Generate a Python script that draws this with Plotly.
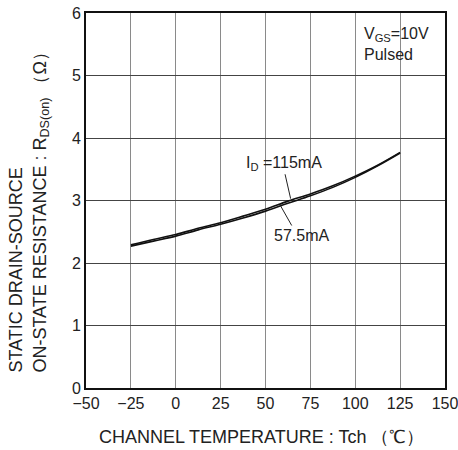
import plotly.graph_objects as go

temp = [-25, -12.5, 0, 12.5, 25, 37.5, 50, 62.5, 75, 87.5, 100, 112.5, 125]
r_115 = [2.29, 2.375, 2.455, 2.555, 2.645, 2.75, 2.86, 2.99, 3.105, 3.235, 3.39, 3.565, 3.77]
r_57 = [2.27, 2.35, 2.43, 2.53, 2.62, 2.72, 2.83, 2.955, 3.075, 3.21, 3.37, 3.555, 3.76]
x_ticks = [-50, -25, 0, 25, 50, 75, 100, 125, 150]
y_ticks = [0, 1, 2, 3, 4, 5, 6]

FONT = "Liberation Sans, Arial, sans-serif"
TXT = "#222"

fig = go.Figure()
fig.add_trace(go.Scatter(x=temp, y=r_115, mode="lines",
                         line=dict(color="#111", width=1.6, shape="spline"), name="115mA"))
fig.add_trace(go.Scatter(x=temp, y=r_57, mode="lines",
                         line=dict(color="#111", width=1.6, shape="spline"), name="57.5mA"))

fig.update_layout(
    width=458, height=450,
    margin=dict(l=86, r=13, t=13, b=62),
    paper_bgcolor="white", plot_bgcolor="white",
    showlegend=False,
    font=dict(family=FONT, size=16, color=TXT),
)
fig.update_xaxes(
    range=[-50, 150], tickvals=x_ticks, tickfont=dict(size=16, color=TXT),
    showgrid=True, gridcolor="#8a8a8a", gridwidth=1,
    showline=True, mirror=True, linecolor="#111", linewidth=2,
    zeroline=False, ticks="", fixedrange=True, automargin=False,
    ticklabeloverflow="allow",
)
fig.update_yaxes(
    range=[0, 6], tickvals=y_ticks, tickfont=dict(size=16, color=TXT),
    showgrid=True, gridcolor="#444", gridwidth=1,
    showline=True, mirror=True, linecolor="#111", linewidth=2,
    zeroline=False, ticks="", fixedrange=True, automargin=False,
    ticklabeloverflow="allow",
)

# Axis titles as annotations
fig.add_annotation(
    xref="paper", yref="paper", x=-0.159, y=0.481, xanchor="center", yanchor="middle",
    textangle=-90, showarrow=False, align="left",
    text="STATIC DRAIN-SOURCE<br>ON-STATE RESISTANCE : R<sub>DS(on)</sub> （Ω）",
    font=dict(size=18, color=TXT, family=FONT),
)
fig.add_annotation(
    xref="paper", yref="paper", x=0.49, y=-0.131, xanchor="center", yanchor="middle",
    showarrow=False,
    text="CHANNEL TEMPERATURE : Tch （℃）",
    font=dict(size=18, color=TXT, family=FONT),
)

# Condition text
fig.add_annotation(
    xref="x", yref="y", x=103.5, y=5.5, xanchor="left", yanchor="middle",
    showarrow=False, align="left",
    text="V<sub>GS</sub>=10V<br>Pulsed",
    font=dict(size=16, color=TXT, family=FONT),
)

# Curve labels with leader lines
fig.add_annotation(
    xref="x", yref="y", x=60.3, y=3.59, xanchor="center", yanchor="middle",
    showarrow=False, text="I<sub>D</sub> =115mA",
    font=dict(size=16, color=TXT, family=FONT),
)
fig.add_shape(type="line", xref="x", yref="y", x0=60.9, y0=3.42, x1=64.0, y1=3.03,
              line=dict(color="#222", width=1))
fig.add_annotation(
    xref="x", yref="y", x=70.2, y=2.44, xanchor="center", yanchor="middle",
    showarrow=False, text="57.5mA",
    font=dict(size=16, color=TXT, family=FONT),
)
fig.add_shape(type="line", xref="x", yref="y", x0=58.1, y0=2.93, x1=64.6, y1=2.6,
              line=dict(color="#222", width=1))

fig.write_html("out.html")
